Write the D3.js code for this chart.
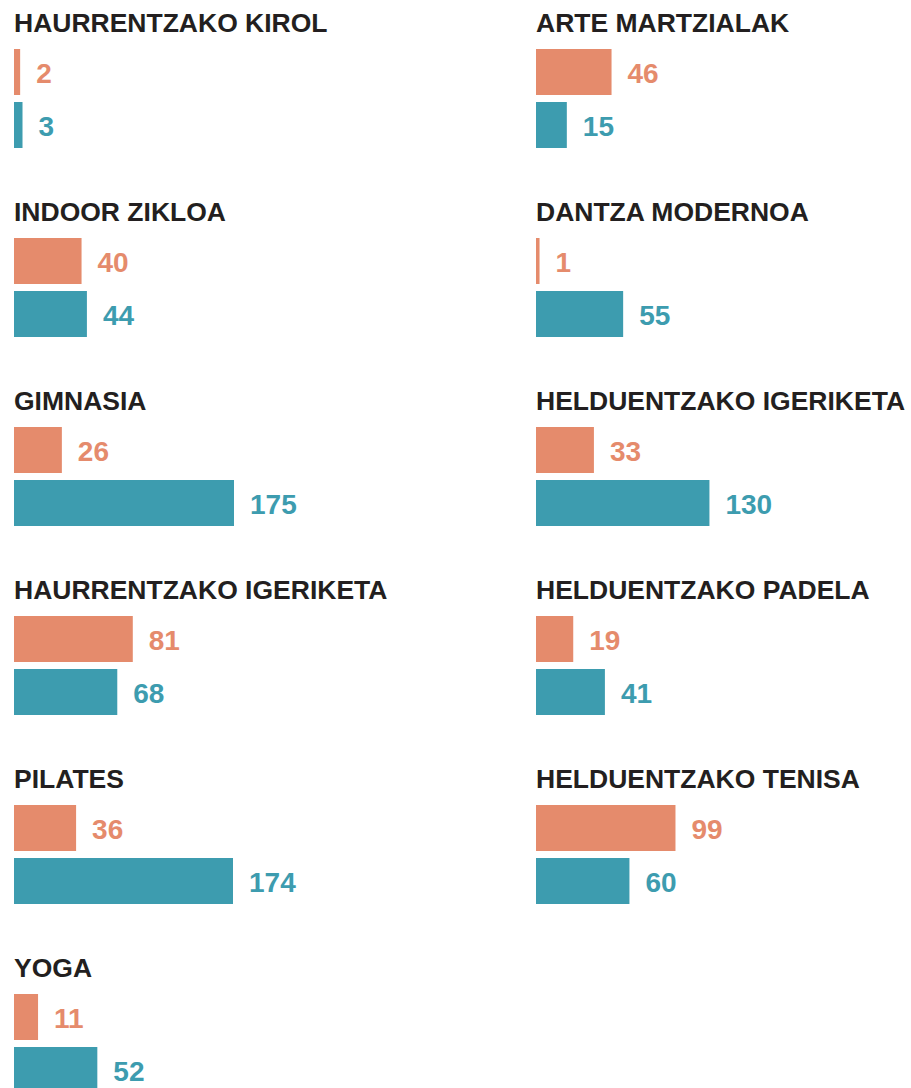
<!DOCTYPE html>
<html>
<head>
<meta charset="utf-8">
<script src="https://cdn.jsdelivr.net/npm/d3@7"></script>
<style>
  html, body { margin: 0; padding: 0; background: #fff; }
  svg { display: block; }
</style>
</head>
<body>
<script>
// Activities, in reading order (left column, then right column)
const activities = [
  "HAURRENTZAKO KIROL", "INDOOR ZIKLOA", "GIMNASIA", "HAURRENTZAKO IGERIKETA", "PILATES", "YOGA",
  "ARTE MARTZIALAK", "DANTZA MODERNOA", "HELDUENTZAKO IGERIKETA", "HELDUENTZAKO PADELA", "HELDUENTZAKO TENISA"
];
const firstValues  = [2, 40, 26, 81, 36, 11, 46, 1, 33, 19, 99];
const secondValues = [3, 44, 175, 68, 174, 52, 15, 55, 130, 41, 60];
const perColumn = 6;

const W = 911, H = 1088;
const colX = [14, 536];
const panelStep = 189;
const titleBase = 32;
const barTop = 49, barH = 46, barGap = 7;
const colors = ["#e58b6c", "#3d9caf"];

const svg = d3.select("body").append("svg").attr("width", W).attr("height", H);

const x = d3.scalePow().exponent(0.8)
  .domain([0, d3.max(secondValues.concat(firstValues))])
  .range([0, 220]);

const panels = activities.map((name, i) => ({
  name,
  col: Math.floor(i / perColumn),
  row: i % perColumn,
  values: [firstValues[i], secondValues[i]]
}));

const g = svg.selectAll("g.panel").data(panels).join("g")
  .attr("class", "panel")
  .attr("transform", d => `translate(${colX[d.col]},${d.row * panelStep})`);

g.append("text")
  .attr("x", 0).attr("y", titleBase)
  .attr("font-family", "Liberation Sans, Arial, sans-serif")
  .attr("font-weight", "bold")
  .attr("font-size", 26.5)
  .attr("fill", "#231f20")
  .text(d => d.name);

const rows = g.selectAll("g.bar").data(d => d.values.map((v, j) => ({ v, j }))).join("g")
  .attr("class", "bar")
  .attr("transform", d => `translate(0,${barTop + d.j * (barH + barGap)})`);

rows.append("rect")
  .attr("x", 0).attr("y", 0)
  .attr("width", d => Math.max(3, x(d.v)))
  .attr("height", barH)
  .attr("fill", d => colors[d.j]);

rows.append("text")
  .attr("x", d => Math.max(3, x(d.v)) + 16)
  .attr("y", barH / 2 + 11)
  .attr("font-family", "Liberation Sans, Arial, sans-serif")
  .attr("font-weight", "bold")
  .attr("font-size", 28)
  .attr("fill", d => colors[d.j])
  .text(d => d.v);
</script>
</body>
</html>
